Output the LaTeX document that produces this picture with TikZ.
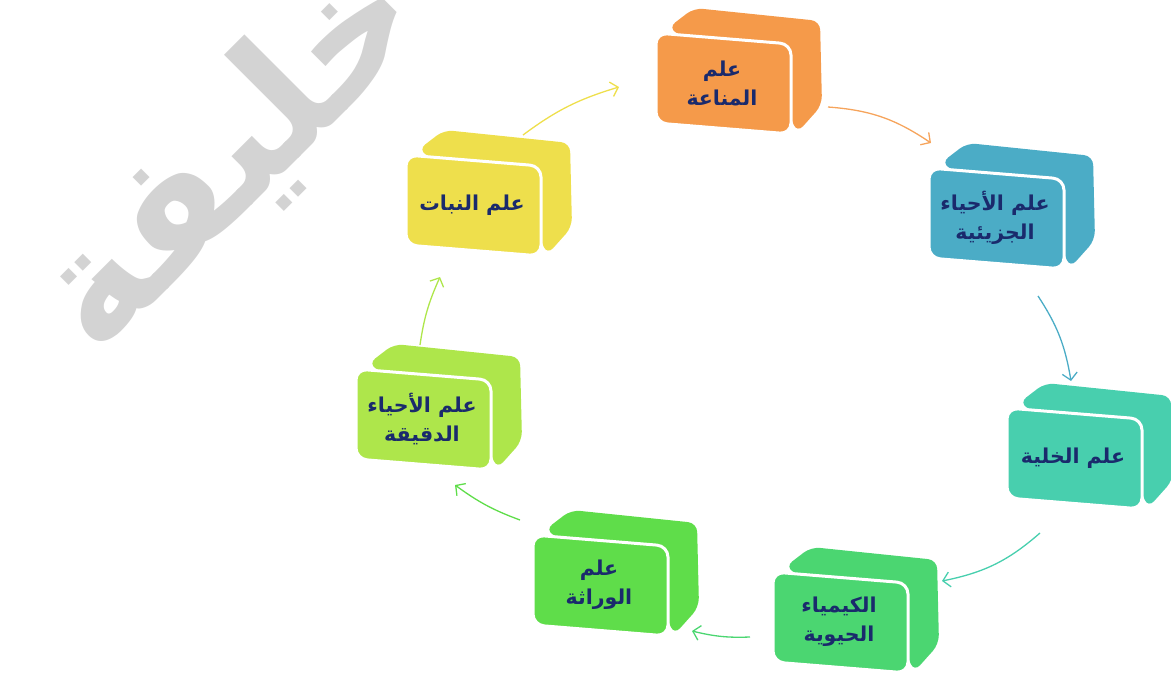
\documentclass[tikz,border=0pt]{standalone}
\usepackage{fontspec}
\newfontfamily\arabicfont[Script=Arabic]{DejaVu Sans}
\TeXXeTstate=1
\usetikzlibrary{arrows.meta,bending}
\definecolor{cOrange}{HTML}{F59A4A}
\definecolor{cBlue}{HTML}{4BACC6}
\definecolor{cTurq}{HTML}{48CFAE}
\definecolor{cGreenA}{HTML}{4BD671}
\definecolor{cGreenB}{HTML}{5FDD4A}
\definecolor{cLime}{HTML}{AEE64B}
\definecolor{cYellow}{HTML}{EEDF4C}
\definecolor{cNavy}{HTML}{1A2A6C}
\definecolor{cMark}{HTML}{D3D3D3}
\newcommand\RL[1]{\beginR #1\endR}
\newcommand\cubebox[5]{%
  \begin{scope}[shift={(#1,#2)}]
    \fill[#3, rounded corners=9pt] (12,-5) -- (38,-25) -- (164,-12) -- (166,72) -- (141,100) -- (125,60) -- cycle;
    \filldraw[fill=#3, draw=white, line width=3pt, rounded corners=11pt] (0,0) -- (135,11) -- (135,101) -- (0,90) -- cycle;
    \node[boxtext] (#4) at (66,50) {#5};
  \end{scope}}
\begin{document}
\begin{tikzpicture}[x=1pt,y=-1pt,
  boxtext/.style={text=cNavy, font=\arabicfont\bfseries\fontsize{20.5}{29}\selectfont, align=center, inner sep=0pt},
  arr/.style={line width=1.3pt, -{Straight Barb[length=7pt,width=15pt,flex]}},
  wmark/.style={text=cMark, font=\arabicfont\bfseries\fontsize{165}{170}\selectfont, inner sep=0pt}]
\useasboundingbox (0,0) rectangle (1171,675);
\clip (0,0) rectangle (1171,675);
% watermark
\node[wmark, rotate=45] (wm) at (230,158) {\RL{خليفة}};
% boxes
\cubebox{656}{33}{cOrange}{b1}{\RL{علم}\\\RL{المناعة}}
\cubebox{929}{168}{cBlue}{b2}{\RL{علم الأحياء}\\\RL{الجزيئية}}
\cubebox{1007}{408}{cTurq}{b3}{\RL{علم الخلية}}
\cubebox{773}{572}{cGreenA}{b4}{\RL{الكيمياء}\\\RL{الحيوية}}
\cubebox{533}{535}{cGreenB}{b5}{\RL{علم}\\\RL{الوراثة}}
\cubebox{356}{369}{cLime}{b6}{\RL{علم الأحياء}\\\RL{الدقيقة}}
\cubebox{406}{155}{cYellow}{b7}{\RL{علم النبات}}
% arrow ends
\coordinate (a1s) at (828,107); \coordinate (a1e) at (931,143);
\coordinate (a2s) at (1038,296); \coordinate (a2e) at (1071,381);
\coordinate (a3s) at (1040,533); \coordinate (a3e) at (942,581);
\coordinate (a4s) at (750,637); \coordinate (a4e) at (692,631);
\coordinate (a5s) at (520,520); \coordinate (a5e) at (455,485);
\coordinate (a6s) at (420,345); \coordinate (a6e) at (440,277);
\coordinate (a7s) at (523,135); \coordinate (a7e) at (619,87);
\draw[arr, cOrange!90!white] (a1s) to[bend left=15] (a1e);
\draw[arr, cBlue] (a2s) to[bend left=12] (a2e);
\draw[arr, cTurq] (a3s) to[bend left=15] (a3e);
\draw[arr, cGreenA] (a4s) to[bend left=8] (a4e);
\draw[arr, cGreenB] (a5s) to[bend left=8] (a5e);
\draw[arr, cLime] (a6s) to[bend left=8] (a6e);
\draw[arr, cYellow] (a7s) to[bend left=10] (a7e);
\end{tikzpicture}
\end{document}
